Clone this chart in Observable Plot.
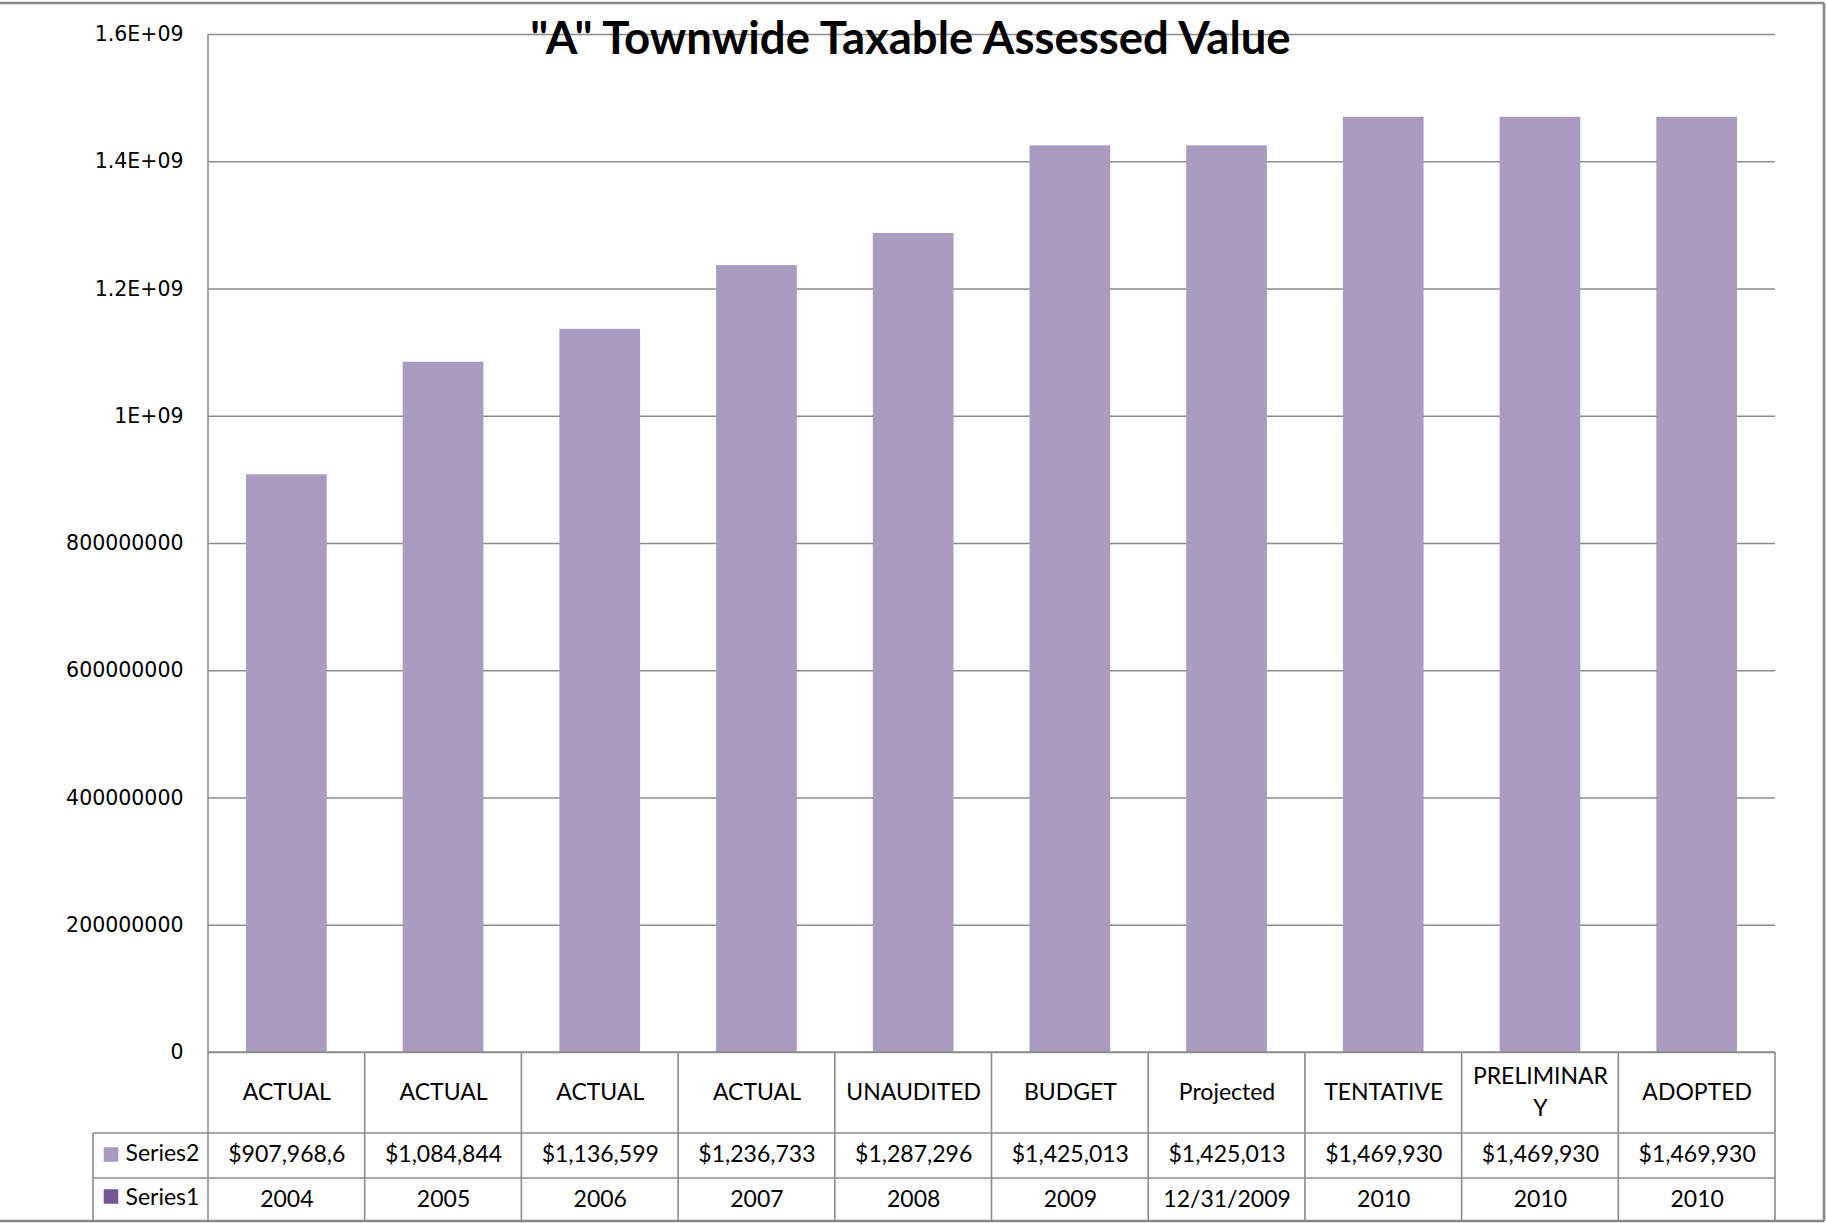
<!DOCTYPE html>
<html>
<head>
<meta charset="utf-8">
<script src="https://cdn.jsdelivr.net/npm/d3@7"></script>
<script src="https://cdn.jsdelivr.net/npm/@observablehq/plot@0.6"></script>
<style>
  html, body { margin: 0; padding: 0; background: #fff; }
  #chart { width: 1826px; height: 1223px; overflow: hidden; }
</style>
</head>
<body>
<div id="chart"></div>
<script>
// ---- data ----
const titleText = "\"A\" Townwide Taxable Assessed Value";
const statusLabels = ["ACTUAL", "ACTUAL", "ACTUAL", "ACTUAL", "UNAUDITED", "BUDGET", "Projected", "TENTATIVE", "PRELIMINAR\nY", "ADOPTED"];
const series2Values = [907968600, 1084844000, 1136599000, 1236733000, 1287296000, 1425013000, 1425013000, 1469930000, 1469930000, 1469930000];
const series2Labels = ["$907,968,6", "$1,084,844", "$1,136,599", "$1,236,733", "$1,287,296", "$1,425,013", "$1,425,013", "$1,469,930", "$1,469,930", "$1,469,930"];
const series1Labels = ["2004", "2005", "2006", "2007", "2008", "2009", "12/31/2009", "2010", "2010", "2010"];
const seriesNames = ["Series2", "Series1"];
const yTicks = [0, 200000000, 400000000, 600000000, 800000000, 1000000000, 1200000000, 1400000000, 1600000000];
const yTickLabels = ["0", "200000000", "400000000", "600000000", "800000000", "1E+09", "1.2E+09", "1.4E+09", "1.6E+09"];

const rows = statusLabels.map((s, i) => ({
  key: i, status: s, value: series2Values[i], s2: series2Labels[i], s1: series1Labels[i]
}));

const barColor = "#AA9BC0";
const series1Color = "#735A93";
const lineColor = "#8C8C8C";
const tableFont = "Lato, 'Open Sans', sans-serif";
const tableSize = 23;

// table grid / chart border drawn from the frame dimensions
function tableGrid(index, scales, values, dims) {
  const {width, height, marginLeft, marginRight, marginTop, marginBottom} = dims;
  const x0 = marginLeft, x1 = width - marginRight, yb = height - marginBottom;
  const n = statusLabels.length, step = (x1 - x0) / n;
  const r1 = yb + 81, r2 = yb + 126, r3 = yb + 169;
  const labelLeft = x0 - 115;
  const g = d3.create("svg:g").attr("fill", "none");
  const line = (xa, ya, xb, yb2, w = 1.6, c = lineColor) =>
    g.append("line").attr("x1", xa).attr("y1", ya).attr("x2", xb).attr("y2", yb2)
      .attr("stroke", c).attr("stroke-width", w);
  line(x0, marginTop, x0, r3);
  line(x0, yb, x1, yb);
  for (let i = 1; i <= n; ++i) line(x0 + i * step, yb, x0 + i * step, r3);
  line(labelLeft, r1, x1, r1);
  line(labelLeft, r2, x1, r2);
  line(labelLeft, r1, labelLeft, r3);
  line(-5, 3, width - 2, 3, 2.6, "#878787");
  line(width - 2, 3, width - 2, r3, 2.6, "#878787");
  line(-5, r3, width - 2, r3, 2.6, "#878787");
  return g.node();
}

const chart = Plot.plot({
  width: 1826,
  height: 1223,
  marginLeft: 208,
  marginRight: 51,
  marginTop: 34,
  marginBottom: 171,
  style: {fontFamily: tableFont, fontSize: tableSize + "px", background: "white", color: "black", overflow: "visible"},
  x: {type: "band", domain: rows.map(d => d.key), paddingInner: 0.485, paddingOuter: 0.2425, round: false, axis: null},
  y: {domain: [0, 1600000000], axis: null, label: null},
  marks: [
    Plot.gridY(yTicks, {stroke: lineColor, strokeOpacity: 1, strokeWidth: 1.6}),
    Plot.axisY(yTicks, {
      label: null, tickSize: 0, tickPadding: 25,
      tickFormat: d => yTickLabels[yTicks.indexOf(d)],
      fontFamily: "'DejaVu Sans', Verdana, sans-serif", fontSize: 20.5, fill: "black"
    }),
    Plot.barY(rows, {x: "key", y: "value", fill: barColor}),
    tableGrid,
    // title
    Plot.text([titleText], {
      frameAnchor: "top", dx: -81.5, dy: 5, text: d => d,
      fontFamily: tableFont, fontWeight: "bold", fontSize: 45.5, fill: "black", lineAnchor: "middle"
    }),
    // category row
    Plot.text(rows, {
      x: "key", text: "status", frameAnchor: "bottom", dy: 37, lineAnchor: "middle",
      lineHeight: 1.4, fill: "black", fontSize: tableSize
    }),
    // series2 row
    Plot.text(rows, {x: "key", text: "s2", frameAnchor: "bottom", dy: 102.5, lineAnchor: "middle", fill: "black", fontSize: tableSize}),
    // series1 row
    Plot.text(rows, {x: "key", text: "s1", frameAnchor: "bottom", dy: 147, lineAnchor: "middle", fill: "black", fontSize: tableSize}),
    // legend labels
    Plot.text([seriesNames[0]], {text: d => d, frameAnchor: "bottom-left", dx: -83, dy: 101, textAnchor: "start", lineAnchor: "middle", fill: "black", fontSize: tableSize}),
    Plot.text([seriesNames[1]], {text: d => d, frameAnchor: "bottom-left", dx: -83, dy: 145, textAnchor: "start", lineAnchor: "middle", fill: "black", fontSize: tableSize}),
    Plot.dot([seriesNames[0]], {frameAnchor: "bottom-left", dx: -97.5, dy: 102, symbol: "square", r: 8.2, fill: barColor, stroke: null}),
    Plot.dot([seriesNames[1]], {frameAnchor: "bottom-left", dx: -97.5, dy: 144, symbol: "square", r: 8.2, fill: series1Color, stroke: null})
  ]
});
document.getElementById("chart").appendChild(chart);
</script>
</body>
</html>
